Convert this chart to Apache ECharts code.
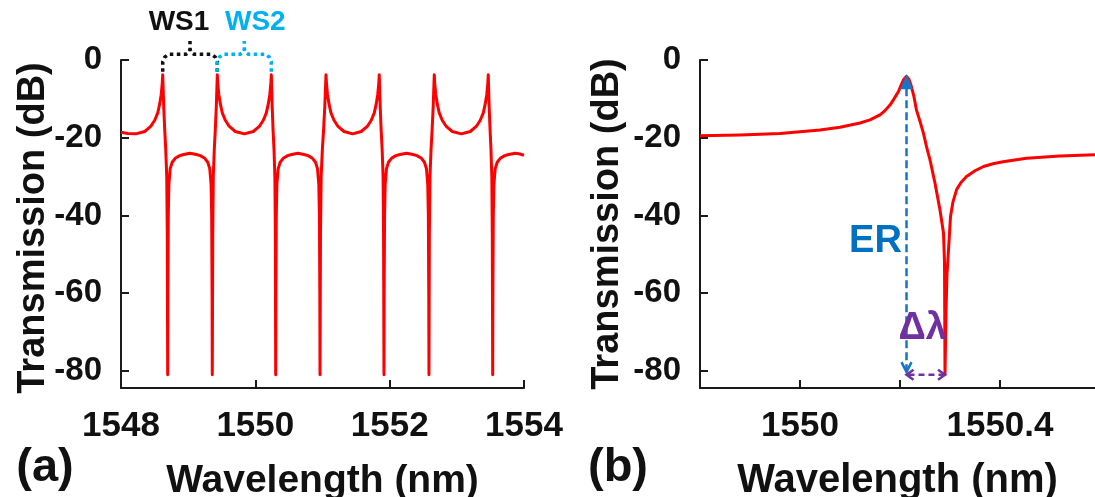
<!DOCTYPE html>
<html>
<head>
<meta charset="utf-8">
<script src="https://cdn.jsdelivr.net/npm/echarts@6/dist/echarts.min.js"></script>
<style>
  html, body { margin: 0; padding: 0; background: #ffffff; }
  #chart { width: 1095px; height: 497px; }
</style>
</head>
<body>
<div id="chart"></div>
<script>
// (a) full transmission spectrum of the cascaded resonator, wavelength in nm
const spectrumWavelength = [
  1548.000, 1548.100, 1548.219, 1548.353, 1548.442, 1548.502, 1548.547, 1548.576, 1548.599, 1548.614, 1548.621,
  1548.636, 1548.651, 1548.666, 1548.681, 1548.689, 1548.695,
  1548.698, 1548.704, 1548.713, 1548.732, 1548.762, 1548.807, 1548.874, 1548.933, 1549.027,
  1549.121, 1549.180, 1549.247, 1549.292, 1549.322, 1549.341, 1549.350, 1549.356, 1549.359,
  1549.366, 1549.374, 1549.389, 1549.404, 1549.419, 1549.434,
  1549.441, 1549.456, 1549.479, 1549.508, 1549.553, 1549.613, 1549.702, 1549.836,
  1549.970, 1550.059, 1550.119, 1550.164, 1550.193, 1550.216, 1550.231, 1550.238,
  1550.251, 1550.264, 1550.278, 1550.291, 1550.298, 1550.303,
  1550.306, 1550.312, 1550.321, 1550.340, 1550.370, 1550.415, 1550.482, 1550.541, 1550.633,
  1550.725, 1550.784, 1550.851, 1550.896, 1550.926, 1550.945, 1550.954, 1550.960, 1550.963,
  1550.970, 1550.980, 1550.998, 1551.016, 1551.034, 1551.052,
  1551.059, 1551.074, 1551.097, 1551.126, 1551.171, 1551.231, 1551.320, 1551.449,
  1551.577, 1551.666, 1551.726, 1551.771, 1551.800, 1551.823, 1551.838, 1551.845,
  1551.859, 1551.873, 1551.888, 1551.902, 1551.909, 1551.915,
  1551.918, 1551.924, 1551.933, 1551.952, 1551.982, 1552.027, 1552.094, 1552.153, 1552.250,
  1552.347, 1552.406, 1552.473, 1552.518, 1552.548, 1552.567, 1552.576, 1552.582, 1552.585,
  1552.591, 1552.600, 1552.616, 1552.632, 1552.648, 1552.664,
  1552.671, 1552.686, 1552.709, 1552.738, 1552.783, 1552.843, 1552.932, 1553.066,
  1553.200, 1553.289, 1553.349, 1553.394, 1553.423, 1553.446, 1553.461, 1553.468,
  1553.481, 1553.495, 1553.508, 1553.521, 1553.528, 1553.534,
  1553.537, 1553.543, 1553.552, 1553.571, 1553.601, 1553.646, 1553.713, 1553.772, 1553.870,
  1553.940, 1554.000
];
// (a) transmission in dB, one value per wavelength above
const spectrumTransmission = [
  -18.6, -18.9, -19.0, -18.4, -17.1, -15.5, -13.6, -11.3, -8.8, -6.0, -3.8,
  -12, -18, -23, -30, -45, -81,
  -60, -40, -32, -28, -26.3, -25.3, -24.6, -24.3, -24.0,
  -24.3, -24.6, -25.3, -26.3, -28, -32, -40, -60, -81,
  -45, -30, -23, -18, -12, -3.8,
  -6.0, -8.8, -11.3, -13.6, -15.5, -17.1, -18.4, -19.0,
  -18.4, -17.1, -15.5, -13.6, -11.3, -8.8, -6.0, -3.8,
  -12, -18, -23, -30, -45, -81,
  -60, -40, -32, -28, -26.3, -25.3, -24.6, -24.3, -24.0,
  -24.3, -24.6, -25.3, -26.3, -28, -32, -40, -60, -81,
  -45, -30, -23, -18, -12, -3.8,
  -6.0, -8.8, -11.3, -13.6, -15.5, -17.1, -18.4, -19.0,
  -18.4, -17.1, -15.5, -13.6, -11.3, -8.8, -6.0, -3.8,
  -12, -18, -23, -30, -45, -81,
  -60, -40, -32, -28, -26.3, -25.3, -24.6, -24.3, -24.0,
  -24.3, -24.6, -25.3, -26.3, -28, -32, -40, -60, -81,
  -45, -30, -23, -18, -12, -3.8,
  -6.0, -8.8, -11.3, -13.6, -15.5, -17.1, -18.4, -19.0,
  -18.4, -17.1, -15.5, -13.6, -11.3, -8.8, -6.0, -3.8,
  -12, -18, -23, -30, -45, -81,
  -60, -40, -32, -28, -26.3, -25.3, -24.6, -24.3, -24.0,
  -24.2, -24.5
];

// (b) close-up of one Fano resonance
const zoomWavelength = [
  1549.800, 1549.880, 1549.960, 1550.040, 1550.080, 1550.120, 1550.140, 1550.160, 1550.170,
  1550.180, 1550.188, 1550.197, 1550.202, 1550.207, 1550.213, 1550.218, 1550.223, 1550.228,
  1550.233, 1550.240, 1550.247, 1550.253, 1550.260, 1550.270, 1550.280, 1550.287, 1550.289,
  1550.290, 1550.292, 1550.294, 1550.297, 1550.301, 1550.306, 1550.313, 1550.322, 1550.333,
  1550.350, 1550.367, 1550.386, 1550.406, 1550.453, 1550.520, 1550.590
];
const zoomTransmission = [
  -19.5, -19.3, -18.9, -18.0, -17.3, -16.2, -15.4, -14.1, -13.0,
  -11.6, -10.0, -8.1, -6.5, -5.1, -4.2, -5.0, -6.9, -9.5,
  -12.9, -15.8, -18.9, -22.3, -25.7, -31.7, -38.6, -44.5, -52,
  -81, -65, -55, -48.9, -40.3, -36.5, -33.4, -31.5, -30.0,
  -28.5, -27.4, -26.7, -26.2, -25.3, -24.7, -24.4
];

// axis ticks and labels
const yTicks = [-80, -60, -40, -20, 0];
const xTicksA = [1548, 1550, 1552, 1554];
const xTicksB = [1549.8, 1550, 1550.2, 1550.4];
const xLabelsB = [1550, 1550.4];

// resonance peaks bracketed as WS1 / WS2 in (a)
const wsPeaks = [1548.621, 1549.434, 1550.238];
// extinction ratio and linewidth markers in (b): peak and notch wavelengths
const erPeak = [1550.213, -4.2];
const notchMin = [1550.290, -81];

const FONT = '"Liberation Sans", Arial, sans-serif';
const AXIS_COLOR = '#1a1a1a';

function pairs(xs, ys) { return xs.map((x, i) => [x, ys[i]]); }
function fmt(v) { return String(Math.round(v * 10) / 10); }

const axisCommon = {
  type: 'value',
  axisLine: { show: true, onZero: false, lineStyle: { color: AXIS_COLOR, width: 2 } },
  axisTick: { show: true, inside: true, length: 8, lineStyle: { color: AXIS_COLOR, width: 2 } },
  splitLine: { show: false },
  axisLabel: {
    color: '#111', fontSize: 35, fontWeight: 'bold', fontFamily: FONT,
    showMinLabel: true, showMaxLabel: true, hideOverlap: false, formatter: fmt
  }
};

function xAxisCfg(grid, min, max, ticks, labels) {
  return Object.assign({}, axisCommon, {
    gridIndex: grid, min: min, max: max,
    axisTick: Object.assign({}, axisCommon.axisTick, { customValues: ticks }),
    axisLabel: Object.assign({}, axisCommon.axisLabel, { margin: 21, customValues: labels })
  });
}
function yAxisCfg(grid) {
  return Object.assign({}, axisCommon, {
    gridIndex: grid, min: -84.4, max: 0,
    axisTick: Object.assign({}, axisCommon.axisTick, { customValues: yTicks }),
    axisLabel: Object.assign({}, axisCommon.axisLabel, { margin: 19, fontSize: 33, customValues: yTicks })
  });
}

const chart = echarts.init(document.getElementById('chart'), null, { renderer: 'canvas' });

chart.setOption({
  animation: false,
  backgroundColor: '#ffffff',
  grid: [
    { left: 121, top: 60, width: 403, height: 328 },
    { left: 700, top: 60, right: 0, height: 328 }
  ],
  xAxis: [
    xAxisCfg(0, 1548, 1554, xTicksA, xTicksA),
    xAxisCfg(1, 1549.8, 1550.59, xTicksB, xLabelsB)
  ],
  yAxis: [yAxisCfg(0), yAxisCfg(1)],
  series: [
    {
      type: 'line', xAxisIndex: 0, yAxisIndex: 0,
      data: pairs(spectrumWavelength, spectrumTransmission),
      symbol: 'none', lineStyle: { color: '#ff0000', width: 3, join: 'round' }, z: 3
    },
    {
      type: 'line', xAxisIndex: 1, yAxisIndex: 1,
      data: pairs(zoomWavelength, zoomTransmission),
      symbol: 'none', lineStyle: { color: '#ff0000', width: 3, join: 'round' }, z: 3
    }
  ]
});

// annotations placed through the axes' own coordinate conversion
function px(grid, pt) { return chart.convertToPixel({ gridIndex: grid }, pt); }

function brace(grid, xLeft, xRight, color) {
  const mid = (xLeft + xRight) / 2;
  const L = px(grid, [xLeft, -3.0]);
  const R = px(grid, [xRight, -3.0]);
  const M = px(grid, [mid, 0]);
  const top = px(grid, [xLeft, 1.5])[1];
  const tip = px(grid, [xLeft, 4.9])[1];
  const low = px(grid, [xLeft, -0.5])[1];
  const half = (pts) => ({
    type: 'polyline', z: 10,
    shape: { points: pts },
    style: { stroke: color, lineWidth: 3.5, lineDash: [3.5, 3.5], fill: null }
  });
  return [
    half([[L[0], L[1]], [L[0], low], [L[0] + 2, top + 3], [L[0] + 6, top], [M[0] - 4, top], [M[0] - 1, top - 2], [M[0], top - 5], [M[0], tip]]),
    half([[R[0], R[1]], [R[0], low], [R[0] - 2, top + 3], [R[0] - 6, top], [M[0] + 4, top], [M[0] + 1, top - 2], [M[0], top - 5]])
  ];
}

function text(x, y, str, size, color, extra) {
  return Object.assign({
    type: 'text', x: x, y: y, z: 20,
    style: {
      text: str, fill: color, font: 'bold ' + size + 'px ' + FONT,
      align: 'center', verticalAlign: 'middle'
    }
  }, extra || {});
}

const g = [];
// WS1 / WS2 brackets over the first three resonances
g.push(...brace(0, wsPeaks[0], wsPeaks[1], '#111111'));
g.push(...brace(0, wsPeaks[1], wsPeaks[2], '#00b0f0'));
const ws1 = px(0, [(wsPeaks[0] + wsPeaks[1]) / 2, 9.8]);
const ws2 = px(0, [(wsPeaks[1] + wsPeaks[2]) / 2, 9.8]);
g.push(text(ws1[0] - 11, ws1[1], 'WS1', 28, '#111111'));
g.push(text(ws2[0] + 11, ws2[1], 'WS2', 28, '#00b0f0'));

// ER: dashed arrow from the resonance peak down to the notch floor
const erTop = px(1, erPeak);
const erBot = px(1, [erPeak[0], -80.3]);
const ER_COLOR = '#1874c6';
g.push({ type: 'polygon', z: 12, shape: { points: [[erTop[0], erTop[1] - 2], [erTop[0] - 6.5, erTop[1] + 13], [erTop[0] + 6.5, erTop[1] + 13]] }, style: { fill: ER_COLOR } });
g.push({ type: 'line', z: 11, shape: { x1: erTop[0], y1: erTop[1] + 12, x2: erBot[0], y2: erBot[1] - 2 }, style: { stroke: ER_COLOR, lineWidth: 2.5, lineDash: [8, 4] } });
g.push({ type: 'polyline', z: 11, shape: { points: [[erBot[0] - 5, erBot[1] - 10], [erBot[0], erBot[1]], [erBot[0] + 5, erBot[1] - 10]] }, style: { stroke: ER_COLOR, lineWidth: 2.5, fill: null } });
const erText = px(1, [erPeak[0], -46.8]);
g.push(text(erText[0] - 31, erText[1], 'ER', 38, '#0070c0'));

// Δλ: dashed double arrow between peak and notch wavelengths
const DL_COLOR = '#7030a0';
const dlA = px(1, [erPeak[0], notchMin[1]]);
const dlB = px(1, notchMin);
g.push({ type: 'line', z: 11, shape: { x1: dlA[0] + 2, y1: dlA[1], x2: dlB[0] - 2, y2: dlB[1] }, style: { stroke: DL_COLOR, lineWidth: 2.5, lineDash: [6, 4] } });
g.push({ type: 'polyline', z: 11, shape: { points: [[dlA[0] + 7, dlA[1] - 5], [dlA[0], dlA[1]], [dlA[0] + 7, dlA[1] + 5]] }, style: { stroke: DL_COLOR, lineWidth: 2.5, fill: null } });
g.push({ type: 'polyline', z: 11, shape: { points: [[dlB[0] - 7, dlB[1] - 5], [dlB[0], dlB[1]], [dlB[0] - 7, dlB[1] + 5]] }, style: { stroke: DL_COLOR, lineWidth: 2.5, fill: null } });
const dlText = px(1, [(erPeak[0] + notchMin[0]) / 2, -69]);
g.push(text(dlText[0] - 3, dlText[1], 'Δλ', 38, DL_COLOR));

// axis titles and panel tags
const midA = px(0, [1551, -42.2]);
const midB = px(1, [1550.195, -42.2]);
g.push(text(midA[0], 481, 'Wavelength (nm)', 39, '#111'));
g.push(text(midB[0], 481, 'Wavelength (nm)', 40, '#111'));
g.push(text(34, 228, 'Transmission (dB)', 38, '#111', { rotation: Math.PI / 2 }));
g.push(text(608, 224, 'Transmission (dB)', 38, '#111', { rotation: Math.PI / 2 }));
g.push(text(45, 468, '(a)', 47, '#111'));
g.push(text(618, 468, '(b)', 47, '#111'));

chart.setOption({ graphic: g });
</script>
</body>
</html>
